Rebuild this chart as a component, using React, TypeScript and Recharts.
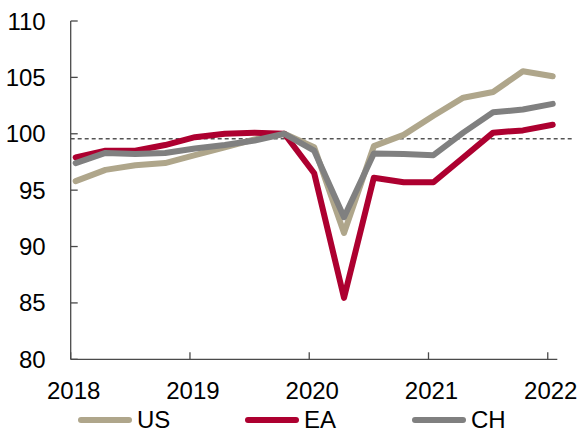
import React from "react";
import { Legend, Line, LineChart, ReferenceLine, XAxis, YAxis } from "recharts";

// Quarterly index, 2019Q4 = 100
const quarters = [
  "2018Q1", "2018Q2", "2018Q3", "2018Q4",
  "2019Q1", "2019Q2", "2019Q3", "2019Q4",
  "2020Q1", "2020Q2", "2020Q3", "2020Q4",
  "2021Q1", "2021Q2", "2021Q3", "2021Q4",
  "2022Q1",
];
const us = [95.8, 96.8, 97.2, 97.4, 98.1, 98.8, 99.5, 100.0, 98.8, 91.2, 98.9, 99.9, 101.6, 103.2, 103.7, 105.55, 105.1];
const ea = [97.9, 98.5, 98.5, 99.0, 99.7, 100.0, 100.1, 100.0, 96.5, 85.45, 96.1, 95.7, 95.7, 97.9, 100.1, 100.3, 100.8];
const ch = [97.4, 98.3, 98.2, 98.3, 98.7, 99.0, 99.4, 100.0, 98.5, 92.6, 98.25, 98.2, 98.1, 100.1, 101.9, 102.15, 102.65];
const yearTicks = [2018, 2019, 2020, 2021, 2022];
const valueTicks = [80, 85, 90, 95, 100, 105, 110];
const dashedLevel = 99.55;

const series = [
  { key: "us", name: "US", color: "#AFA68B" },
  { key: "ea", name: "EA", color: "#AD0030" },
  { key: "ch", name: "CH", color: "#808080" },
];

// each observation sits mid-way through the first month of its quarter
const toTime = (q: string) => {
  const year = Number(q.slice(0, 4));
  const qn = Number(q.slice(5));
  return year + (qn - 1) * 0.25 + 0.5 / 12;
};

const data = quarters.map((q, i) => ({
  t: toTime(q),
  us: us[i],
  ea: ea[i],
  ch: ch[i],
}));

const FONT = '"Liberation Sans", Arial, sans-serif';
const AXIS = "#4a4a4a";

// legend keeps the series order (US, EA, CH)
function LegendRow() {
  return (
    <div style={{ display: "flex", paddingLeft: 78, fontFamily: FONT, fontSize: 24, color: "#000" }}>
      {series.map((s) => (
        <div key={s.key} style={{ width: 167, display: "flex", alignItems: "center" }}>
          <svg width={59} height={12} style={{ display: "block" }}>
            <line x1={3} y1={6} x2={51} y2={6} stroke={s.color} strokeWidth={6} strokeLinecap="round" />
          </svg>
          <span style={{ lineHeight: "26px" }}>{s.name}</span>
        </div>
      ))}
    </div>
  );
}

export default function App() {
  return (
    <div style={{ position: "absolute", left: 0, top: 0, width: 584, height: 433, background: "#fff" }}>
      <LineChart
        width={584}
        height={433}
        data={data}
        margin={{ top: 21, right: 26.7, bottom: 0, left: 0 }}
      >
        <XAxis
          dataKey="t"
          type="number"
          domain={[2018, 2022.08]}
          ticks={yearTicks}
          allowDataOverflow
          height={73.7}
          stroke={AXIS}
          strokeWidth={1.3}
          tickSize={-7}
          tickMargin={30}
          tick={{ fill: "#000", fontSize: 24, fontFamily: FONT, dx: 3 }}
        />
        <YAxis
          type="number"
          domain={[80, 110]}
          ticks={valueTicks}
          width={70.7}
          stroke={AXIS}
          strokeWidth={1.3}
          tickSize={-7}
          tickMargin={32}
          tick={{ fill: "#000", fontSize: 24, fontFamily: FONT }}
        />
        <ReferenceLine
          segment={[
            { x: 2018, y: dashedLevel },
            { x: 2022.21, y: dashedLevel },
          ]}
          ifOverflow="visible"
          stroke="#000"
          strokeWidth={1}
          strokeDasharray="4 3"
        />
        {series.map((s) => (
          <Line
            key={s.key}
            type="linear"
            dataKey={s.key}
            name={s.name}
            stroke={s.color}
            strokeWidth={6}
            strokeLinejoin="round"
            strokeLinecap="round"
            dot={false}
            activeDot={false}
            isAnimationActive={false}
          />
        ))}
        <Legend
          layout="horizontal"
          align="center"
          verticalAlign="middle"
          wrapperStyle={{ top: 407, left: 0, width: 584 }}
          content={LegendRow}
        />
      </LineChart>
    </div>
  );
}
